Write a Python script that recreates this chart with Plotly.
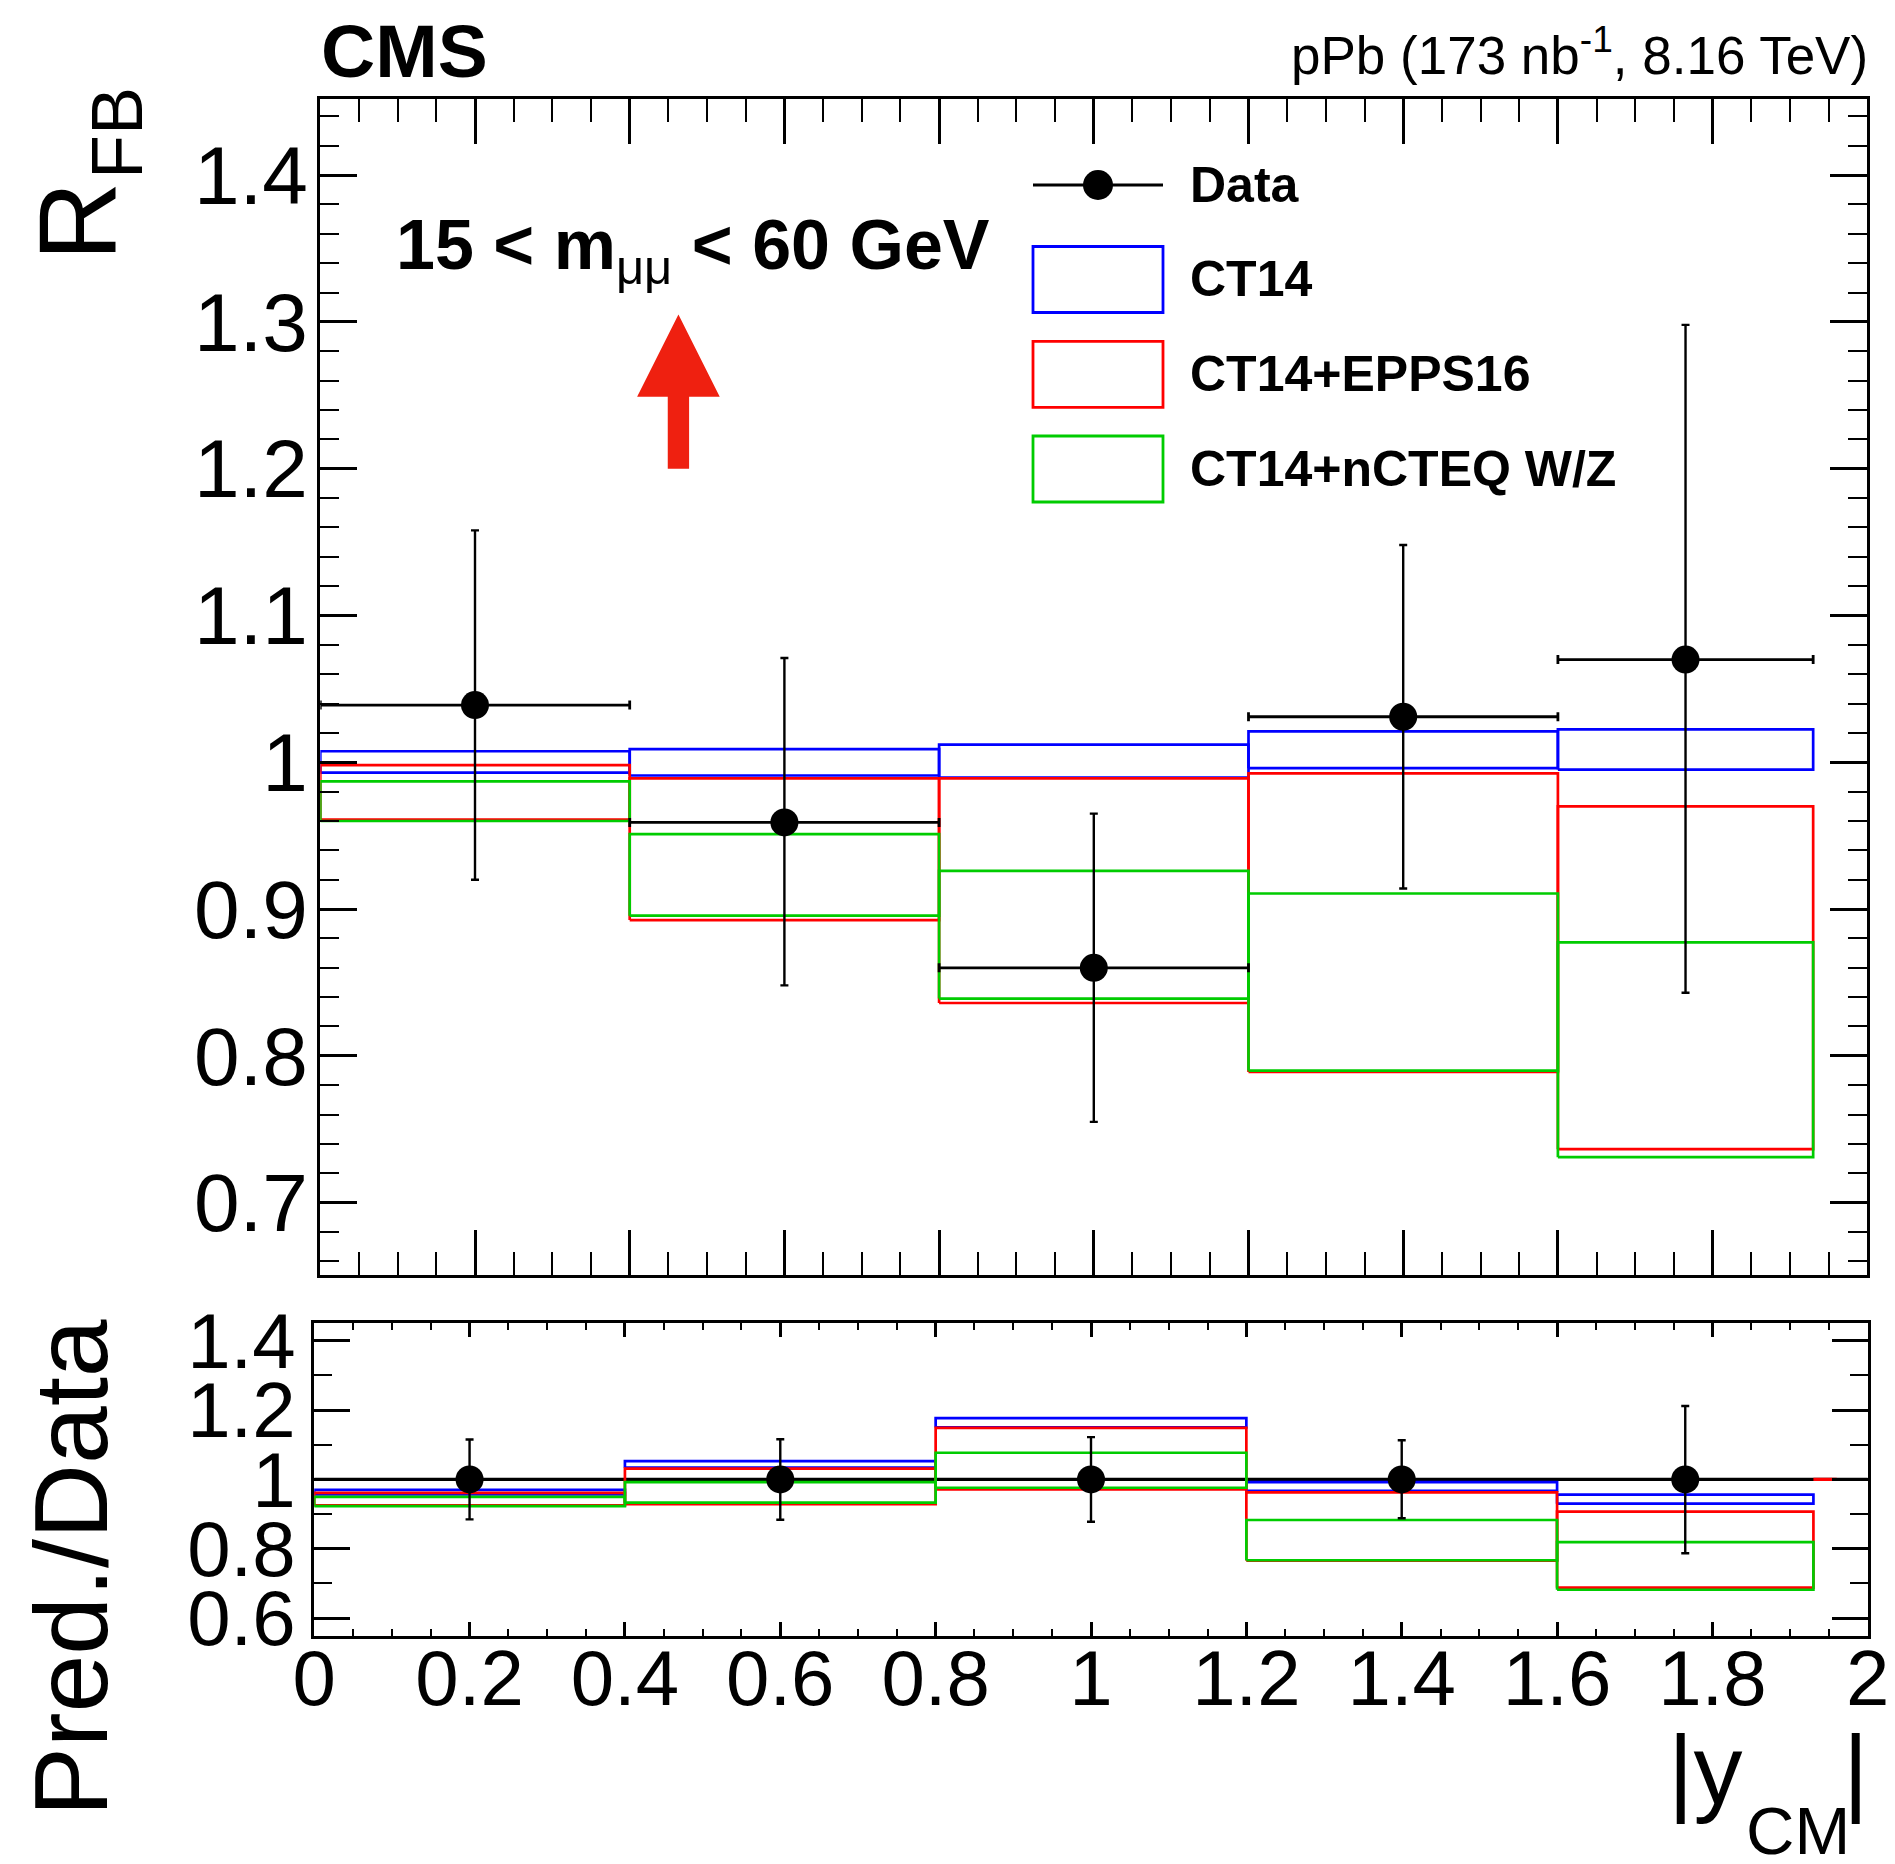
import plotly.graph_objects as go

# ---------------- data ----------------
bin_lo = [0.0, 0.4, 0.8, 1.2, 1.6]
bin_hi = [0.4, 0.8, 1.2, 1.6, 1.93]
x_center = [0.2, 0.6, 1.0, 1.4, 1.765]

rfb = [1.039, 0.959, 0.860, 1.031, 1.070]
rfb_err_up = [0.119, 0.112, 0.105, 0.117, 0.228]
rfb_err_dn = [0.119, 0.111, 0.105, 0.117, 0.227]

ct14_lo = [0.993, 0.991, 0.9895, 0.996, 0.995]
ct14_hi = [1.0075, 1.009, 1.012, 1.021, 1.0224]
epps_lo = [0.961, 0.8925, 0.836, 0.789, 0.7364]
epps_hi = [0.998, 0.989, 0.989, 0.9924, 0.970]
ncteq_lo = [0.960, 0.8955, 0.839, 0.790, 0.731]
ncteq_hi = [0.987, 0.951, 0.926, 0.9106, 0.8773]

ratio_data = [1.0, 1.0, 1.0, 1.0, 1.0]
ratio_err_up = [0.115, 0.116, 0.122, 0.113, 0.212]
ratio_err_dn = [0.115, 0.116, 0.122, 0.112, 0.213]

r_ct14_lo = [0.957, 1.034, 1.150, 0.967, 0.930]
r_ct14_hi = [0.970, 1.053, 1.177, 0.992, 0.956]
r_epps_lo = [0.925, 0.929, 0.971, 0.766, 0.688]
r_epps_hi = [0.961, 1.031, 1.149, 0.963, 0.907]
r_ncteq_lo = [0.923, 0.933, 0.976, 0.767, 0.682]
r_ncteq_hi = [0.950, 0.992, 1.077, 0.883, 0.819]

unity_x = [0.0, 2.0]
unity_y = [1.0, 1.0]
red_seg_x = [1.93, 1.96]

models = [
    ("CT14", "#0000ff", ct14_lo, ct14_hi, r_ct14_lo, r_ct14_hi),
    ("CT14+EPPS16", "#ff0000", epps_lo, epps_hi, r_epps_lo, r_epps_hi),
    ("CT14+nCTEQ W/Z", "#00cc00", ncteq_lo, ncteq_hi, r_ncteq_lo, r_ncteq_hi),
]

# arrow (data coords of top panel)
arrow_x = 0.463
arrow_y0, arrow_y1 = 1.200, 1.305
arrow_head_len = 0.056
arrow_head_hw = 0.0534
arrow_shaft_hw = 0.0138

# ---------------- layout geometry ----------------
# the page body has an 8px margin: the figure starts at (8, 8) in the window
OFF = 8
FW, FH = 1895 - OFF, 1864 - OFF
FONT = "Liberation Sans, Arial, Helvetica, sans-serif"


def fx(p):
    return (p - OFF) / FW


def fy(p):
    return 1 - (p - OFF) / FH


top_dom_x = [fx(320.3), fx(1867.3)]
top_dom_y = [fy(1275.0), fy(99.1)]
bot_dom_x = [fx(314.2), fx(1867.8)]
bot_dom_y = [fy(1635.5), fy(1323.4)]


def boxes(lo, hi):
    xs, ys = [], []
    for a, b, l, h in zip(bin_lo, bin_hi, lo, hi):
        xs += [a, b, b, a, a, None]
        ys += [l, l, h, h, l, None]
    return xs, ys


fig = go.Figure()

# top panel bands
for name, col, lo, hi, rlo, rhi in models:
    xs, ys = boxes(lo, hi)
    fig.add_trace(go.Scatter(x=xs, y=ys, mode="lines", line=dict(color=col, width=2.7),
                             xaxis="x", yaxis="y", showlegend=False, hoverinfo="skip"))

# top data
fig.add_trace(go.Scatter(
    x=x_center, y=rfb, mode="markers", xaxis="x", yaxis="y", showlegend=False,
    marker=dict(color="black", size=28),
    error_y=dict(type="data", symmetric=False, array=rfb_err_up, arrayminus=rfb_err_dn,
                 color="black", thickness=2.4, width=4),
    error_x=dict(type="data", symmetric=False,
                 array=[b - c for b, c in zip(bin_hi, x_center)],
                 arrayminus=[c - a for a, c in zip(bin_lo, x_center)],
                 color="black", thickness=2.8, width=4.5),
))

# bottom panel: unity line
fig.add_trace(go.Scatter(x=unity_x, y=unity_y, mode="lines", line=dict(color="black", width=3.2),
                         xaxis="x2", yaxis="y2", showlegend=False, hoverinfo="skip"))

for name, col, lo, hi, rlo, rhi in models:
    xs, ys = boxes(rlo, rhi)
    fig.add_trace(go.Scatter(x=xs, y=ys, mode="lines", line=dict(color=col, width=2.7),
                             xaxis="x2", yaxis="y2", showlegend=False, hoverinfo="skip"))

fig.add_trace(go.Scatter(x=red_seg_x, y=unity_y, mode="lines", line=dict(color="#ff0000", width=3.2),
                         xaxis="x2", yaxis="y2", showlegend=False, hoverinfo="skip"))

# small x-extent caps of the last ratio point
fig.add_trace(go.Scatter(
    x=[x_center[4]], y=[ratio_data[4]], mode="markers", marker=dict(size=1, color="black"),
    xaxis="x2", yaxis="y2", showlegend=False, hoverinfo="skip",
    error_x=dict(type="data", symmetric=False, array=[bin_hi[4] - x_center[4]],
                 arrayminus=[x_center[4] - bin_lo[4]], color="black", thickness=0.01, width=4),
))

fig.add_trace(go.Scatter(
    x=x_center, y=ratio_data, mode="markers", xaxis="x2", yaxis="y2", showlegend=False,
    marker=dict(color="black", size=28),
    error_y=dict(type="data", symmetric=False, array=ratio_err_up, arrayminus=ratio_err_dn,
                 color="black", thickness=2.4, width=4),
))

# ---------------- axes ----------------
common = dict(showline=True, linecolor="black", linewidth=3, mirror="allticks",
              ticks="inside", tickcolor="black", showgrid=False, zeroline=False,
              automargin=False)

fig.update_layout(
    template="none",
    width=FW, height=FH, margin=dict(l=0, r=0, t=0, b=0, pad=0, autoexpand=False),
    paper_bgcolor="white", plot_bgcolor="white",
    font=dict(family=FONT, color="black"),
    xaxis=dict(domain=top_dom_x, anchor="y", range=[0, 2], tick0=0, dtick=0.2,
               ticklen=45, tickwidth=2.5, showticklabels=False,
               minor=dict(dtick=0.05, ticklen=23, tickwidth=2.2, ticks="inside", tickcolor="black"),
               **common),
    yaxis=dict(domain=top_dom_y, anchor="x", range=[0.6507, 1.4518], tick0=0, dtick=0.1,
               ticklen=37, tickwidth=2.5, tickfont=dict(size=82, family=FONT),
               ticklabelstandoff=-7,
               minor=dict(dtick=0.02, ticklen=19, tickwidth=2.2, ticks="inside", tickcolor="black"),
               **common),
    xaxis2=dict(domain=bot_dom_x, anchor="y2", range=[0, 2], tick0=0, dtick=0.2,
                ticklen=14, tickwidth=2.5, tickfont=dict(size=78, family=FONT),
                ticklabelstandoff=-27,
                minor=dict(dtick=0.05, ticklen=7, tickwidth=2.2, ticks="inside", tickcolor="black"),
                **common),
    yaxis2=dict(domain=bot_dom_y, anchor="x2", range=[0.55, 1.45], tick0=0, dtick=0.2,
                ticklen=36, tickwidth=2.5, tickfont=dict(size=78, family=FONT),
                ticklabelstandoff=0,
                minor=dict(dtick=0.1, ticklen=18, tickwidth=2.2, ticks="inside", tickcolor="black"),
                **common),
)

# ---------------- arrow ----------------
ax0 = arrow_x
hb = arrow_y1 - arrow_head_len
path = (f"M {ax0 - arrow_shaft_hw},{arrow_y0} L {ax0 + arrow_shaft_hw},{arrow_y0} "
        f"L {ax0 + arrow_shaft_hw},{hb} L {ax0 + arrow_head_hw},{hb} L {ax0},{arrow_y1} "
        f"L {ax0 - arrow_head_hw},{hb} L {ax0 - arrow_shaft_hw},{hb} Z")
shapes = [dict(type="path", path=path, xref="x", yref="y", fillcolor="#ef2010",
               line=dict(width=0), layer="above")]

# ---------------- manual legend ----------------
leg_x0, leg_x1 = 1033, 1163
leg_rows = [185, 279.5, 374.3, 469]
box_half = 33
shapes.append(dict(type="line", xref="paper", yref="paper", x0=fx(leg_x0), x1=fx(leg_x1),
                   y0=fy(leg_rows[0]), y1=fy(leg_rows[0]), line=dict(color="black", width=3)))
mx = (leg_x0 + leg_x1) / 2
shapes.append(dict(type="circle", xref="paper", yref="paper", x0=fx(mx - 15), x1=fx(mx + 15),
                   y0=fy(leg_rows[0] + 15), y1=fy(leg_rows[0] - 15), fillcolor="black",
                   line=dict(color="black", width=0)))
for (name, col, *_), yc in zip(models, leg_rows[1:]):
    shapes.append(dict(type="rect", xref="paper", yref="paper", x0=fx(leg_x0), x1=fx(leg_x1),
                       y0=fy(yc + box_half), y1=fy(yc - box_half), line=dict(color=col, width=2.8)))

annotations = []
leg_names = ["Data"] + [m[0] for m in models]
for name, yc in zip(leg_names, leg_rows):
    annotations.append(dict(text=f"<b>{name}</b>", xref="paper", yref="paper", x=fx(1188), y=fy(yc),
                            xanchor="left", yanchor="middle", showarrow=False,
                            font=dict(size=50, family=FONT, color="black")))

# ---------------- texts ----------------
annotations += [
    dict(text="<b>CMS</b>", xref="paper", yref="paper", x=fx(319), y=fy(51), xanchor="left",
         yanchor="middle", showarrow=False, font=dict(size=75, family=FONT)),
    dict(text="pPb (173 nb<sup>-1</sup>, 8.16 TeV)", xref="paper", yref="paper", x=fx(1870), y=fy(52),
         xanchor="right", yanchor="middle", showarrow=False, font=dict(size=53, family=FONT)),
    dict(text="<b>15 &lt; m</b><sub>μμ</sub><b> &lt; 60 GeV</b>", xref="paper", yref="paper",
         x=fx(394), y=fy(250), xanchor="left", yanchor="middle", showarrow=False,
         font=dict(size=70, family=FONT)),
    # R_FB built from pieces (rotated)
    dict(text="R", xref="paper", yref="paper", x=fx(76), y=fy(222), xanchor="center",
         yanchor="middle", textangle=-90, showarrow=False, font=dict(size=110, family=FONT)),
    dict(text="FB", xref="paper", yref="paper", x=fx(117), y=fy(133), xanchor="center",
         yanchor="middle", textangle=-90, showarrow=False, font=dict(size=72, family=FONT)),
    dict(text="Pred./Data", xref="paper", yref="paper", x=fx(70), y=fy(1318), xanchor="center",
         yanchor="top", textangle=-90, showarrow=False, font=dict(size=104, family=FONT)),
    # |y_CM| built from pieces so that the subscript sits as low as in the reference
    dict(text="|y", xref="paper", yref="paper", x=fx(1666), y=fy(1770), xanchor="left",
         yanchor="middle", showarrow=False, font=dict(size=98, family=FONT)),
    dict(text="CM", xref="paper", yref="paper", x=fx(1744), y=fy(1830), xanchor="left",
         yanchor="middle", showarrow=False, font=dict(size=67, family=FONT)),
    dict(text="|", xref="paper", yref="paper", x=fx(1870), y=fy(1770), xanchor="right",
         yanchor="middle", showarrow=False, font=dict(size=98, family=FONT)),
]

fig.update_layout(shapes=shapes, annotations=annotations)
fig.write_html("out.html")
